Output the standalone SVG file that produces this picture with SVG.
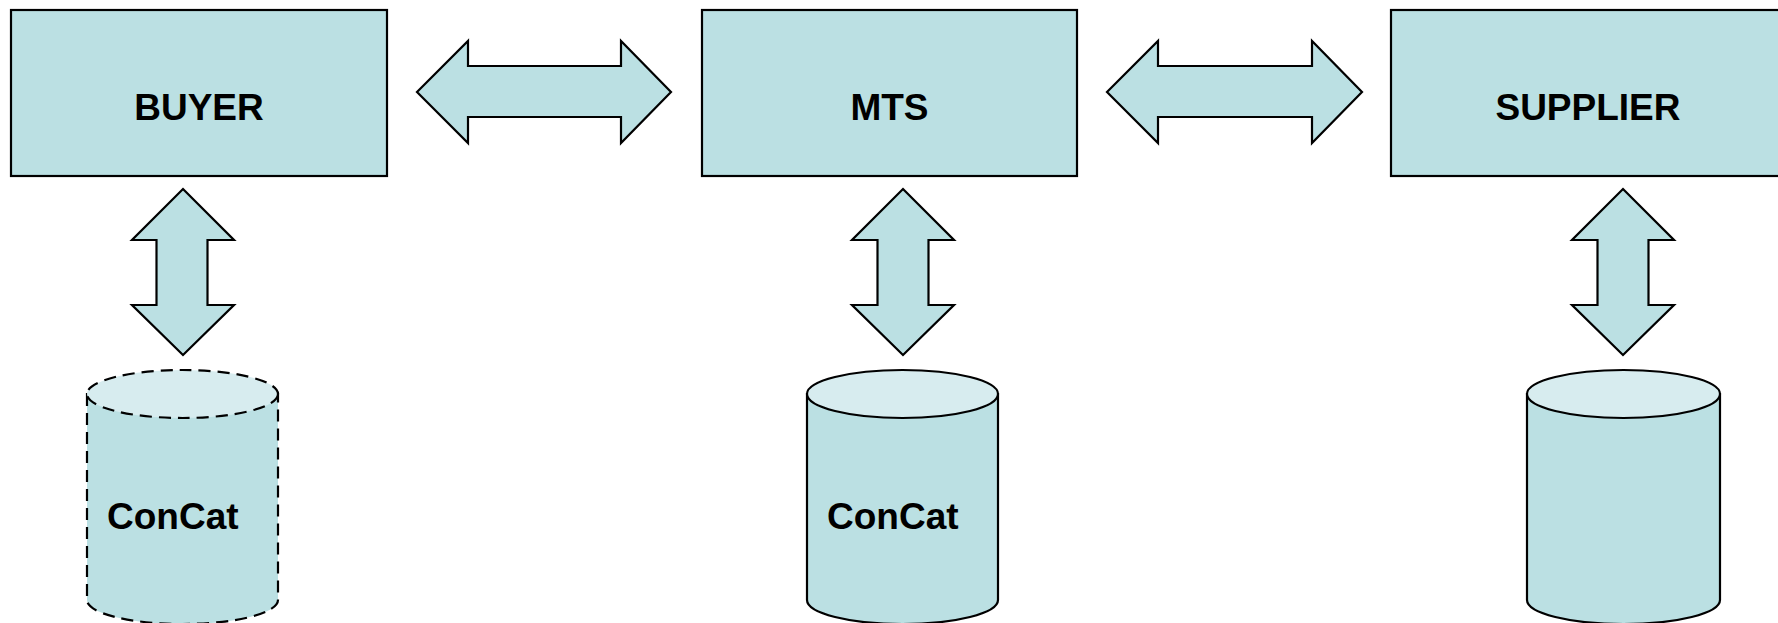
<svg xmlns="http://www.w3.org/2000/svg" width="1778" height="623" viewBox="0 0 1778 623">
<style>
.box{fill:#BBE0E3;stroke:#000;stroke-width:2.2}
.arr{fill:#BBE0E3;stroke:#000;stroke-width:2.2;stroke-linejoin:miter}
.body{fill:#BBE0E3;stroke:#000;stroke-width:2.2}
.top{fill:#D7ECEF;stroke:#000;stroke-width:2.2}
.dash{stroke-dasharray:12,7}
.lbl{font-family:"Liberation Sans",Arial,sans-serif;font-weight:bold;font-size:37px;fill:#000}
</style>
<rect width="1778" height="623" fill="#fff"/>
<g id="buyer"><rect class="box" x="11" y="10" width="376" height="166"/><text class="lbl" x="199" y="120" text-anchor="middle">BUYER</text></g>
<g id="mts"><rect class="box" x="702" y="10" width="375" height="166"/><text class="lbl" x="889.5" y="120" text-anchor="middle">MTS</text></g>
<g id="supplier"><rect class="box" x="1391" y="10" width="396" height="166"/><text class="lbl" x="1588" y="120" text-anchor="middle">SUPPLIER</text></g>
<g id="buyer-db">
<path class="body dash" d="M87,394 V600 A95.5,24 0 0 0 278,600 V394 Z"/>
<ellipse class="top dash" cx="182.5" cy="394" rx="95.5" ry="24"/>
<text class="lbl" x="107" y="529">ConCat</text></g>
<g id="mts-db">
<path class="body" d="M807,394 V600 A95.5,24 0 0 0 998,600 V394 Z"/>
<ellipse class="top" cx="902.5" cy="394" rx="95.5" ry="24"/>
<text class="lbl" x="827" y="529">ConCat</text></g>
<g id="supplier-db">
<path class="body" d="M1527,394 V600 A96.5,24 0 0 0 1720,600 V394 Z"/>
<ellipse class="top" cx="1623.5" cy="394" rx="96.5" ry="24"/>
</g>
<g id="connectors">
<polygon class="arr" points="417,92 468,41 468,66 621,66 621,41 671,92 621,143 621,117 468,117 468,143"/>
<polygon class="arr" points="1107,92 1158,41 1158,66 1312,66 1312,41 1362,92 1312,143 1312,117 1158,117 1158,143"/>
<polygon class="arr" points="183,189 234,240 207.5,240 207.5,305 234,305 183,355 132,305 156.5,305 156.5,240 132,240"/>
<polygon class="arr" points="903,189 954,240 928.5,240 928.5,305 954,305 903,355 852,305 877.5,305 877.5,240 852,240"/>
<polygon class="arr" points="1623,189 1674,240 1648.5,240 1648.5,305 1674,305 1623,355 1572,305 1597.5,305 1597.5,240 1572,240"/>
</g>
</svg>
